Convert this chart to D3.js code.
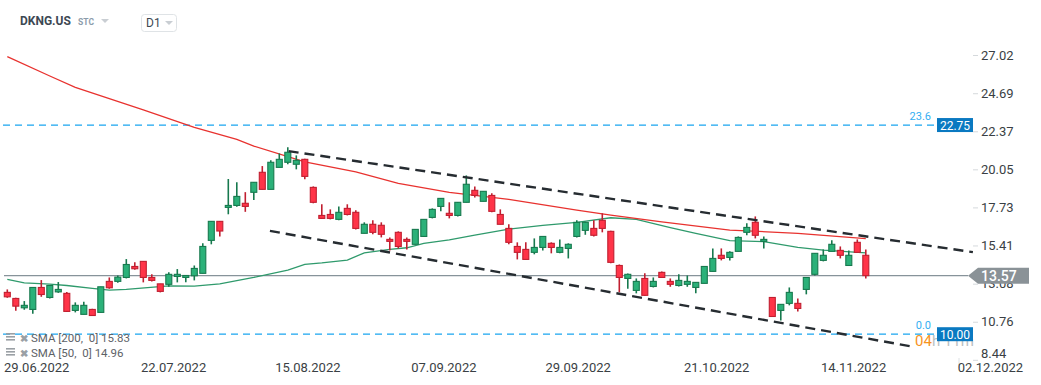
<!DOCTYPE html>
<html>
<head>
<meta charset="utf-8">
<script src="https://cdn.jsdelivr.net/npm/d3@7"></script>
<style>
  body { margin: 0; background: #fff; font-family: Roboto, "Noto Sans", sans-serif; }
  svg text { font-family: Roboto, "Noto Sans", sans-serif; }
</style>
</head>
<body>
<div id="chart"></div>
<script>
// daily candles (one per trading day)
var opens  = [12.55,12.18,11.61,11.51,12.85,12.24,12.58,12.49,11.45,11.21,11.51,11.33,13.22,13.22,13.46,14.13,14.44,13.46,13.07,13.04,
              13.52,13.46,13.56,13.71,15.72,16.88,17.73,17.85,17.98,18.65,19.87,18.83,20.17,20.48,20.36,20.66,18.95,17.24,17.30,17.00,
              17.67,17.43,16.15,16.70,16.64,15.78,16.21,15.78,15.48,15.96,17.12,17.79,17.37,17.24,18.04,18.77,18.10,18.46,17.30,16.45,
              15.35,15.17,14.99,15.29,15.54,14.99,15.23,15.96,16.33,16.45,16.94,16.27,14.19,13.40,12.67,13.40,12.91,13.77,13.22,12.97,
              13.04,12.85,13.10,13.83,14.81,14.68,15.05,16.21,16.82,15.66,12.24,11.45,11.88,11.88,12.73,13.65,14.50,15.05,15.11,14.19,
              15.60,14.81];
var highs  = [12.73,12.22,12.02,12.87,13.30,13.00,13.18,12.57,11.94,11.98,11.55,12.89,13.46,13.58,14.58,14.38,14.44,13.65,13.07,13.77,
              13.97,13.60,14.19,15.54,16.88,16.90,19.46,19.27,18.66,19.26,20.25,20.60,21.02,21.39,20.90,20.70,19.01,17.92,17.61,17.79,
              17.92,17.55,16.82,16.94,16.82,15.90,16.27,15.90,16.39,17.00,17.67,18.30,18.04,18.06,19.68,19.01,18.71,18.59,17.61,16.70,
              15.60,15.60,15.84,15.96,15.60,15.78,15.54,16.94,16.85,16.94,17.37,16.30,14.25,13.70,13.40,13.71,13.46,13.83,13.40,13.65,
              13.58,13.16,14.13,15.23,15.23,15.05,15.96,16.76,17.18,15.96,12.24,11.82,12.85,12.18,13.46,14.93,15.17,15.72,15.35,15.11,
              15.78,15.17];
var lows   = [12.22,11.43,11.49,11.24,12.28,12.18,12.52,11.36,11.33,11.21,11.14,11.33,12.77,13.13,13.40,13.93,13.16,13.22,12.55,12.89,
              13.16,13.16,13.28,13.71,15.48,15.96,17.31,17.77,17.46,18.18,18.83,18.83,20.17,20.36,20.05,19.44,17.98,17.06,17.00,16.94,
              17.24,16.39,16.15,16.09,15.90,15.11,15.23,15.17,15.48,15.96,17.06,17.49,17.06,17.18,18.04,18.34,18.10,17.43,16.70,15.48,
              14.56,14.56,14.87,15.11,14.93,14.93,14.62,15.90,16.06,15.96,16.21,14.32,12.55,12.77,12.49,12.35,12.85,13.46,12.89,12.91,
              12.89,12.49,13.10,13.83,14.50,14.50,15.05,16.03,15.84,15.23,11.08,10.84,11.76,11.39,12.43,13.58,14.44,15.05,14.62,14.19,
              14.99,13.40];
var closes = [12.28,11.71,11.76,12.85,12.42,12.97,12.73,11.39,11.76,11.76,11.14,12.89,12.83,13.48,14.25,13.99,13.46,13.28,12.61,13.65,
              13.65,13.58,14.01,15.35,16.88,16.29,17.85,18.40,17.79,19.26,18.83,20.48,20.66,21.09,20.60,19.62,18.04,17.06,17.06,17.43,
              17.30,16.45,16.70,16.21,16.09,15.66,15.35,15.66,16.39,17.00,17.61,18.28,17.24,18.04,19.14,18.46,18.71,17.49,16.70,15.60,
              14.99,14.56,15.29,15.96,15.29,15.29,15.48,16.82,16.82,16.03,16.45,14.38,13.46,13.65,13.22,12.37,13.22,13.46,13.04,13.28,
              13.22,13.16,14.13,14.62,14.62,14.99,15.90,16.51,16.03,15.78,11.08,11.82,12.55,11.57,13.46,14.93,14.81,15.48,14.81,14.81,
              14.99,13.57];

// moving averages, read at a few candle positions
var sma200Idx = [0,5,8,16,22,27,29,35,41,46,52,59,67,71,77,85,93,101];
var sma200Val = [26.92,25.74,25.05,23.67,22.61,21.88,21.47,20.51,19.90,19.19,18.65,18.22,17.57,17.26,16.85,16.35,16.15,15.83];
var sma50Idx  = [0,2,5,7,10,12,14,19,22,25,29,33,35,37,40,42,45,47,49,52,55,59,63,67,71,74,78,81,85,89,93,96,101];
var sma50Val  = [13.34,13.13,13.05,12.97,12.79,12.69,12.73,12.95,12.93,13.07,13.46,13.91,14.26,14.35,14.52,14.96,15.17,15.27,15.54,15.75,
                 16.04,16.41,16.63,16.82,17.10,17.00,16.50,16.15,15.70,15.64,15.29,15.13,14.96];

var dateLabels  = ["29.06.2022","22.07.2022","15.08.2022","07.09.2022","29.09.2022","21.10.2022","14.11.2022","02.12.2022"];
var dateTickIdx = [3.4, 19.5, 35.3, 51.3, 67.1, 83.4, 99.5, 115.6];
var priceTicks  = [27.02, 24.69, 22.37, 20.05, 17.73, 15.41, 13.08, 10.76, 8.44];

var fibLevels = [22.75, 10.00];
var fibNames  = ["23.6", "0.0"];
var lastPrice = 13.57;

// channel trend lines: [candle index, price]
var channelUpper = [[33.1, 21.16], [113.6, 15.00]];
var channelLower = [[30.9, 16.30], [106.2, 9.27]];

var width = 1041, height = 385;

var svg = d3.select("#chart").append("svg")
  .attr("width", width)
  .attr("height", height);

var x = d3.scaleLinear().domain([0, 101]).range([7.3, 865.8]);
var y = d3.scaleLinear().domain([8.44, 27.02]).range([359.8, 55]);

var upFill = "#2bb179", upLine = "#17794e";
var dnFill = "#ff3448", dnLine = "#c01f30";

// fib horizontal lines
fibLevels.forEach(function(v, k) {
  svg.append("line")
    .attr("x1", 3).attr("x2", 936)
    .attr("y1", y(v)).attr("y2", y(v))
    .attr("stroke", "#1aa5f0")
    .attr("stroke-width", 1.3)
    .attr("stroke-dasharray", "7,5");
  svg.append("text")
    .attr("x", 931).attr("y", y(v) - 5)
    .attr("text-anchor", "end")
    .attr("font-size", 11)
    .attr("fill", "#33aef2")
    .text(fibNames[k]);
});

// last price line
svg.append("line")
  .attr("x1", 4).attr("x2", 968)
  .attr("y1", y(lastPrice)).attr("y2", y(lastPrice))
  .attr("stroke", "#87939a")
  .attr("stroke-width", 1.4);

// moving averages
var line = d3.line().x(function(d) { return x(d[0]); }).y(function(d) { return y(d[1]); });

svg.append("path")
  .datum(sma50Idx.map(function(d, k) { return [d, sma50Val[k]]; }))
  .attr("d", line)
  .attr("fill", "none")
  .attr("stroke", "#2f9a6c")
  .attr("stroke-width", 1.3);

svg.append("path")
  .datum(sma200Idx.map(function(d, k) { return [d, sma200Val[k]]; }))
  .attr("d", line)
  .attr("fill", "none")
  .attr("stroke", "#e8322f")
  .attr("stroke-width", 1.3);

// candles
var idx = d3.range(opens.length);
var candles = svg.append("g").selectAll("g")
  .data(idx)
  .enter().append("g");

candles.append("line")
  .attr("x1", function(i) { return x(i); })
  .attr("x2", function(i) { return x(i); })
  .attr("y1", function(i) { return y(highs[i]); })
  .attr("y2", function(i) { return y(lows[i]); })
  .attr("stroke", function(i) { return closes[i] >= opens[i] ? upLine : dnLine; })
  .attr("stroke-width", 1.6);

candles.append("rect")
  .attr("x", function(i) { return x(i) - 3; })
  .attr("width", 6)
  .attr("y", function(i) { return y(Math.max(opens[i], closes[i])); })
  .attr("height", function(i) { return Math.max(1.5, Math.abs(y(opens[i]) - y(closes[i]))); })
  .attr("fill", function(i) { return closes[i] >= opens[i] ? upFill : dnFill; })
  .attr("stroke", function(i) { return closes[i] >= opens[i] ? upLine : dnLine; })
  .attr("stroke-width", 1.1);

// channel lines
[channelUpper, channelLower].forEach(function(c) {
  svg.append("path")
    .datum(c)
    .attr("d", line)
    .attr("fill", "none")
    .attr("stroke", "#262c31")
    .attr("stroke-width", 2.4)
    .attr("stroke-dasharray", "10,6");
});

// timer text partly under the 0.0 box
var timer = svg.append("text")
  .attr("x", 915).attr("y", y(fibLevels[1]) + 12)
  .attr("font-size", 15);
timer.append("tspan").attr("fill", "#f7931e").text("04");
timer.append("tspan").attr("fill", "#b9bec2").text("h 11m");

// fib value boxes
fibLevels.forEach(function(v) {
  svg.append("rect")
    .attr("x", 937).attr("y", y(v) - 7)
    .attr("width", 36).attr("height", 14)
    .attr("fill", "#0a79c1");
  svg.append("text")
    .attr("x", 955).attr("y", y(v) + 4.5)
    .attr("text-anchor", "middle")
    .attr("font-size", 12)
    .attr("fill", "#fff")
    .text(v.toFixed(2));
});

// price axis
var yAxis = svg.append("g")
  .attr("transform", "translate(978,0)")
  .call(d3.axisRight(y).tickValues(priceTicks).tickSize(5).tickPadding(3)
    .tickFormat(function(d) { return d.toFixed(2); }));
yAxis.select(".domain").remove();
yAxis.selectAll("line").attr("stroke", "#d5d9dc").attr("transform", "translate(-5,0)");
yAxis.selectAll("text")
  .attr("font-size", 13)
  .attr("fill", "#3a3f44")
  .attr("x", 3)
  .attr("dy", function(d) { return d === 8.44 ? "-0.2em" : "0.32em"; });

// last price marker
var ly = y(lastPrice);
svg.append("path")
  .attr("d", "M968," + ly + "L978," + (ly - 8) + "L1029," + (ly - 8) + "L1029," + (ly + 8) + "L978," + (ly + 8) + "Z")
  .attr("fill", "#8a9297");
svg.append("text")
  .attr("x", 981).attr("y", ly + 5)
  .attr("font-size", 14)
  .attr("font-weight", 500)
  .attr("fill", "#fff")
  .text(lastPrice.toFixed(2));

// date axis
svg.append("line")
  .attr("x1", 959).attr("x2", 959).attr("y1", 358).attr("y2", 368)
  .attr("stroke", "#dde1e4");
var xAxis = svg.append("g")
  .attr("transform", "translate(0,361)")
  .call(d3.axisBottom(x).tickValues(dateTickIdx).tickSize(0).tickPadding(2)
    .tickFormat(function(d, k) { return dateLabels[k]; }));
xAxis.select(".domain").remove();
xAxis.selectAll("text").attr("font-size", 13).attr("fill", "#3a3f44");

// legend
var legend = [["SMA [200,  0] ", sma200Val[sma200Val.length - 1]], ["SMA [50,  0] ", sma50Val[sma50Val.length - 1]]];
legend.forEach(function(l, k) {
  var ty = 338 + k * 15;
  var g = svg.append("g").attr("fill", "#9aa0a5");
  g.append("rect").attr("x", 6).attr("y", ty - 5).attr("width", 9).attr("height", 1.6);
  g.append("rect").attr("x", 6).attr("y", ty - 2).attr("width", 9).attr("height", 1.6);
  g.append("rect").attr("x", 6).attr("y", ty + 1).attr("width", 9).attr("height", 1.6);
  g.append("text").attr("x", 20).attr("y", ty + 3.5).attr("font-size", 10).attr("font-weight", 700).text("\u2716");
  svg.append("text")
    .attr("x", 31).attr("y", ty + 4)
    .attr("font-size", 11.5)
    .attr("fill", "#5d6267")
    .attr("xml:space", "preserve")
    .text(l[0] + l[1].toFixed(2));
});

// header
svg.append("text").attr("x", 20).attr("y", 25).attr("font-size", 12).attr("font-weight", 700)
  .attr("fill", "#3d4853").text("DKNG.US");
svg.append("text").attr("x", 78).attr("y", 25).attr("font-size", 8.5).attr("font-weight", 700)
  .attr("fill", "#8c9cab").text("STC");
svg.append("path").attr("d", "M101,19L109,19L105,23Z").attr("fill", "#c9ced3");
svg.append("rect").attr("x", 141.5).attr("y", 14.5).attr("width", 35).attr("height", 17).attr("rx", 3)
  .attr("fill", "#fff").attr("stroke", "#dfe3e6");
svg.append("text").attr("x", 146).attr("y", 27).attr("font-size", 12).attr("fill", "#3d4853").text("D1");
svg.append("path").attr("d", "M165,21L173,21L169,25Z").attr("fill", "#c9ced3");
</script>
</body>
</html>
